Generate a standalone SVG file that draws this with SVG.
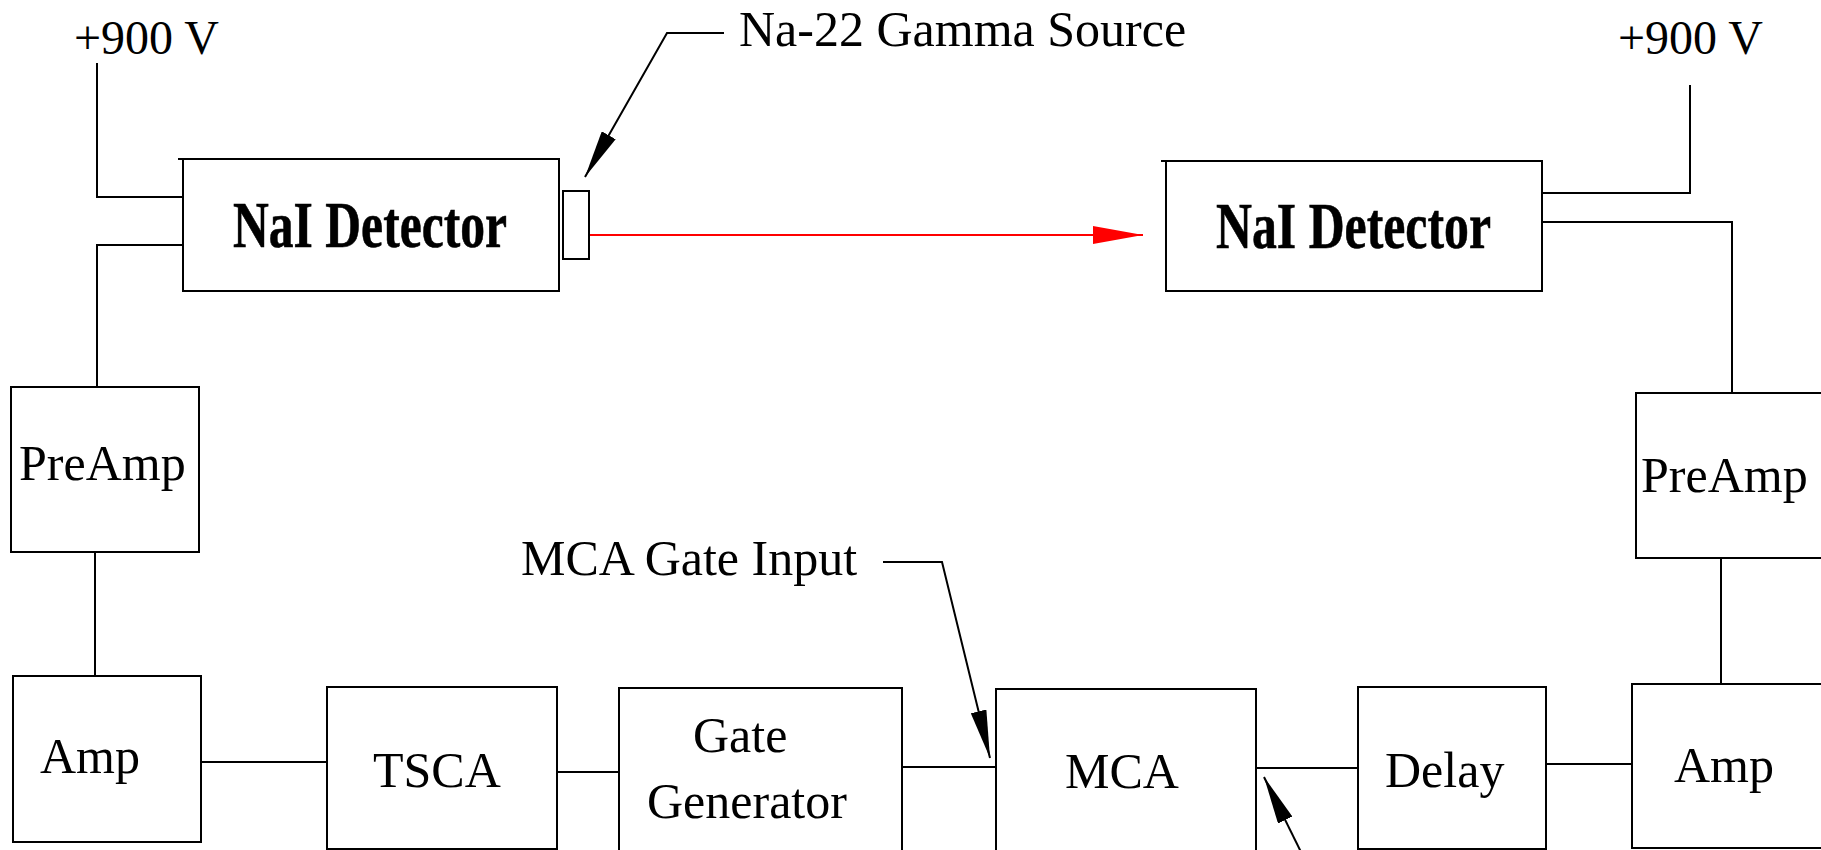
<svg xmlns="http://www.w3.org/2000/svg" width="1821" height="850" viewBox="0 0 1821 850">
<style>
.box{fill:#fff;stroke:#000;stroke-width:2}
.ln{fill:none;stroke:#000;stroke-width:2}
.t{font-family:"Liberation Serif","Times New Roman",serif;font-size:50px;fill:#000}
.det{font-family:"Liberation Serif","Times New Roman",serif;font-size:66px;font-weight:bold;fill:#000;stroke:#000;stroke-width:0.6}
</style>
<defs>
<marker id="ab" markerUnits="userSpaceOnUse" viewBox="0 0 48 16" refX="48" refY="8" markerWidth="48" markerHeight="16" orient="auto">
<path d="M0,0 L48,8 L0,16 Z" fill="#000"/>
</marker>
<marker id="ar" markerUnits="userSpaceOnUse" viewBox="0 0 50 18" refX="50" refY="9" markerWidth="50" markerHeight="18" orient="auto">
<path d="M0,0 L50,9 L0,18 Z" fill="#f00"/>
</marker>
</defs>
<rect width="1821" height="850" fill="#fff"/>

<g id="connectors">
<polyline class="ln" points="97,63 97,197 183,197"/>
<polyline class="ln" points="183,245 97,245 97,387"/>
<line class="ln" x1="95" y1="552" x2="95" y2="676"/>
<line class="ln" x1="201" y1="762" x2="327" y2="762"/>
<line class="ln" x1="557" y1="772" x2="619" y2="772"/>
<line class="ln" x1="902" y1="767" x2="996" y2="767"/>
<line class="ln" x1="1256" y1="768" x2="1358" y2="768"/>
<line class="ln" x1="1546" y1="764" x2="1632" y2="764"/>
<line class="ln" x1="1721" y1="558" x2="1721" y2="684"/>
<polyline class="ln" points="1542,222 1732,222 1732,393"/>
<polyline class="ln" points="1542,193 1690,193 1690,85"/>
<line x1="585" y1="235" x2="1143" y2="235" stroke="#f00" stroke-width="2" marker-end="url(#ar)"/>
<polyline class="ln" points="724,33 667,33 585,177" marker-end="url(#ab)"/>
<polyline class="ln" points="883,562 942,562 990,758" marker-end="url(#ab)"/>
<line class="ln" x1="1301" y1="852" x2="1264" y2="777" marker-end="url(#ab)"/>
</g>

<g id="hv-left"><text class="t" x="74" y="54" style="font-size:48px">+900 V</text></g>
<g id="hv-right"><text class="t" x="1618" y="54" style="font-size:48px">+900 V</text></g>
<g id="source-label"><text class="t" x="739" y="46">Na-22 Gamma Source</text></g>
<g id="gate-label"><text class="t" x="521" y="575">MCA Gate Input</text></g>

<g id="nai-left">
<rect class="box" x="183" y="159" width="376" height="132"/>
<line class="ln" x1="178" y1="159" x2="183" y2="159"/>
<text class="det" x="233" y="247" textLength="274" lengthAdjust="spacingAndGlyphs">NaI Detector</text>
</g>
<g id="source"><rect class="box" x="563" y="191" width="26" height="68"/></g>
<g id="nai-right">
<rect class="box" x="1166" y="161" width="376" height="130"/>
<line class="ln" x1="1161" y1="161" x2="1166" y2="161"/>
<text class="det" x="1216" y="248" textLength="275" lengthAdjust="spacingAndGlyphs">NaI Detector</text>
</g>
<g id="preamp-left">
<rect class="box" x="11" y="387" width="188" height="165"/>
<text class="t" x="19" y="480">PreAmp</text>
</g>
<g id="amp-left">
<rect class="box" x="13" y="676" width="188" height="166"/>
<text class="t" x="40" y="773">Amp</text>
</g>
<g id="tsca">
<rect class="box" x="327" y="687" width="230" height="162"/>
<text class="t" x="373" y="787">TSCA</text>
</g>
<g id="gate-generator">
<rect class="box" x="619" y="688" width="283" height="180"/>
<text class="t" x="693" y="752">Gate</text>
<text class="t" x="647" y="818">Generator</text>
</g>
<g id="mca">
<rect class="box" x="996" y="689" width="260" height="180"/>
<text class="t" x="1065" y="788">MCA</text>
</g>
<g id="delay">
<rect class="box" x="1358" y="687" width="188" height="162"/>
<text class="t" x="1385" y="787">Delay</text>
</g>
<g id="amp-right">
<rect class="box" x="1632" y="684" width="220" height="164"/>
<text class="t" x="1674" y="782">Amp</text>
</g>
<g id="preamp-right">
<rect class="box" x="1636" y="393" width="220" height="165"/>
<text class="t" x="1641" y="492">PreAmp</text>
</g>
</svg>
